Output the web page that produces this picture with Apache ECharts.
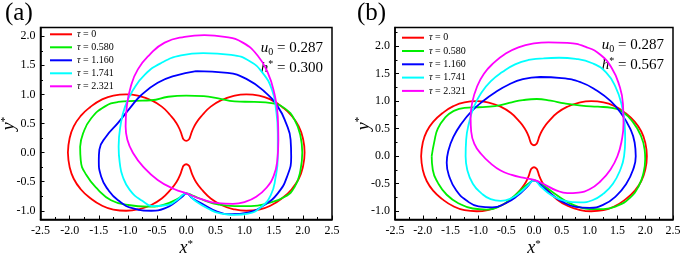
<!DOCTYPE html>
<html>
<head>
<meta charset="utf-8">
<script src="https://cdn.jsdelivr.net/npm/echarts@6/dist/echarts.min.js"></script>
<style>
html, body { margin: 0; padding: 0; background: #fff; }
#chart { width: 682px; height: 257px; }
</style>
</head>
<body>
<div id="chart"></div>
<script>
var TAU_NAMES = ['τ = 0', 'τ = 0.580', 'τ = 1.160', 'τ = 1.741', 'τ = 2.321']
var COLORS = ['#ff0000', '#00ee00', '#0000ff', '#00ffff', '#ff00ff']
var Y_TICKS = [-1.0, -0.5, 0, 0.5, 1.0, 1.5, 2.0]
var Y_MINOR_A = [-0.75, -0.25, 0.25, 0.75, 1.25, 1.75]
var Y_MINOR_B = [-0.75, -0.25, 0.25, 0.75, 1.25, 1.75, 2.25]
var PARAMS_A = ['0.287', '0.300']
var PARAMS_B = ['0.287', '0.567']

// tau = 0, same in both panels
var tau0Curve = [
  [-2.03, 0], [-2.0, 0.25], [-1.93, 0.45], [-1.81, 0.63], [-1.65, 0.78], [-1.45, 0.91], [-1.25, 0.98], [-1.03, 1.0],
  [-0.8, 0.97], [-0.6, 0.9], [-0.42, 0.79], [-0.28, 0.65], [-0.17, 0.51], [-0.1, 0.37], [-0.07, 0.28], [-0.045, 0.225],
  [0, 0.2], [0.045, 0.225], [0.07, 0.28], [0.1, 0.37], [0.17, 0.51], [0.28, 0.65], [0.42, 0.79], [0.6, 0.9], [0.8, 0.97],
  [1.03, 1.0], [1.25, 0.98], [1.45, 0.91], [1.65, 0.78], [1.81, 0.63], [1.93, 0.45], [2.0, 0.25], [2.03, 0],
  [2.0, -0.25], [1.93, -0.45], [1.81, -0.63], [1.65, -0.78], [1.45, -0.91], [1.25, -0.98], [1.03, -1.0], [0.8, -0.97],
  [0.6, -0.9], [0.42, -0.79], [0.28, -0.65], [0.17, -0.51], [0.1, -0.37], [0.07, -0.28], [0.045, -0.225], [0, -0.2],
  [-0.045, -0.225], [-0.07, -0.28], [-0.1, -0.37], [-0.17, -0.51], [-0.28, -0.65], [-0.42, -0.79], [-0.6, -0.9],
  [-0.8, -0.97], [-1.03, -1.0], [-1.25, -0.98], [-1.45, -0.91], [-1.65, -0.78], [-1.81, -0.63], [-1.93, -0.45],
  [-2.0, -0.25], [-2.03, 0]
]

// panel (a), h* = 0.300
var aTau0580 = [
  [-1.82, 0.1], [-1.77, 0.33], [-1.63, 0.59], [-1.4, 0.79], [-1.17, 0.87], [-0.89, 0.89], [-0.6, 0.9], [-0.31, 0.96],
  [0, 0.98], [0.3, 0.97], [0.55, 0.93], [0.83, 0.88], [1.17, 0.87], [1.46, 0.85], [1.69, 0.76], [1.86, 0.56],
  [1.96, 0.28], [1.99, 0], [1.96, -0.3], [1.86, -0.59], [1.69, -0.76], [1.4, -0.87], [1.11, -0.92], [0.83, -0.92],
  [0.54, -0.89], [0.31, -0.82], [0.11, -0.74], [0, -0.7], [-0.14, -0.79], [-0.37, -0.89], [-0.66, -0.93], [-1.0, -0.9],
  [-1.29, -0.82], [-1.51, -0.64], [-1.71, -0.39], [-1.81, -0.13], [-1.82, 0.1]
]
var aTau1160 = [
  [0.17, 1.4], [-0.2, 1.32], [-0.49, 1.2], [-0.77, 0.99], [-0.97, 0.76], [-1.17, 0.51], [-1.37, 0.28], [-1.49, 0.05],
  [-1.5, -0.13], [-1.46, -0.41], [-1.34, -0.64], [-1.17, -0.82], [-0.91, -0.96], [-0.6, -1.0], [-0.37, -0.96],
  [-0.17, -0.84], [-0.06, -0.75], [0, -0.7], [0.11, -0.79], [0.31, -0.9], [0.54, -1.02], [0.77, -1.06], [1.06, -1.03],
  [1.34, -0.9], [1.57, -0.7], [1.73, -0.41], [1.8, -0.07], [1.79, 0.22], [1.71, 0.51], [1.57, 0.79], [1.34, 1.05],
  [1.06, 1.25], [0.71, 1.37], [0.17, 1.4]
]
var aTau1741 = [
  [0.29, 1.71], [-0.09, 1.67], [-0.43, 1.54], [-0.71, 1.34], [-0.91, 1.08], [-1.05, 0.79], [-1.13, 0.45], [-1.16, 0.1],
  [-1.14, -0.18], [-1.09, -0.41], [-0.97, -0.64], [-0.77, -0.82], [-0.54, -0.92], [-0.31, -0.9], [-0.14, -0.8],
  [0, -0.7], [0.14, -0.82], [0.37, -0.96], [0.6, -1.05], [0.83, -1.07], [1.06, -1.05], [1.29, -0.93], [1.45, -0.73],
  [1.53, -0.44], [1.57, -0.07], [1.57, 0.33], [1.54, 0.74], [1.47, 1.08], [1.31, 1.37], [1.09, 1.57], [0.77, 1.68],
  [0.29, 1.71]
]
var aTau2321 = [
  [0.31, 2.02], [-0.03, 1.99], [-0.37, 1.89], [-0.63, 1.68], [-0.83, 1.43], [-0.95, 1.14], [-1.02, 0.79], [-1.04, 0.45],
  [-1.01, 0.22], [-0.91, -0.01], [-0.74, -0.24], [-0.49, -0.47], [-0.2, -0.63], [0, -0.7], [0.26, -0.8], [0.54, -0.87],
  [0.8, -0.88], [1.0, -0.85], [1.2, -0.76], [1.38, -0.6], [1.5, -0.4], [1.56, -0.15], [1.58, 0.22], [1.57, 0.62],
  [1.51, 1.02], [1.4, 1.37], [1.23, 1.66], [0.97, 1.89], [0.66, 1.99], [0.31, 2.02]
]

// panel (b), h* = 0.567
var bTau0580 = [
  [-1.84, 0.0], [-1.79, 0.28], [-1.73, 0.5], [-1.6, 0.7], [-1.45, 0.82], [-1.25, 0.88], [-1.0, 0.89], [-0.8, 0.9],
  [-0.6, 0.93], [-0.4, 0.98], [-0.2, 1.02], [0.05, 1.04], [0.3, 1.01], [0.55, 0.96], [0.85, 0.92], [1.15, 0.9],
  [1.4, 0.88], [1.6, 0.8], [1.78, 0.62], [1.92, 0.38], [1.99, 0.12], [2.0, -0.05], [1.97, -0.3], [1.88, -0.55],
  [1.72, -0.76], [1.5, -0.9], [1.25, -0.96], [1.0, -0.96], [0.8, -0.92], [0.6, -0.83], [0.4, -0.7], [0.2, -0.55],
  [0.08, -0.47], [0, -0.44], [-0.08, -0.48], [-0.2, -0.58], [-0.4, -0.76], [-0.6, -0.9], [-0.85, -0.97], [-1.1, -0.95],
  [-1.35, -0.86], [-1.57, -0.7], [-1.73, -0.48], [-1.82, -0.25], [-1.84, 0.0]
]
var bTau1160 = [
  [0.11, 1.44], [-0.2, 1.4], [-0.46, 1.3], [-0.7, 1.16], [-0.92, 1.0], [-1.12, 0.82], [-1.3, 0.6], [-1.45, 0.35],
  [-1.54, 0.1], [-1.57, -0.12], [-1.52, -0.38], [-1.4, -0.62], [-1.22, -0.8], [-1.0, -0.91], [-0.75, -0.93],
  [-0.5, -0.85], [-0.3, -0.72], [-0.12, -0.55], [0, -0.44], [0.12, -0.52], [0.3, -0.68], [0.5, -0.82], [0.75, -0.92],
  [1.0, -0.94], [1.25, -0.88], [1.48, -0.72], [1.66, -0.5], [1.78, -0.25], [1.83, 0.0], [1.81, 0.25], [1.73, 0.5],
  [1.58, 0.76], [1.38, 1.0], [1.12, 1.2], [0.85, 1.34], [0.5, 1.42], [0.11, 1.44]
]
var bTau1741 = [
  [0.17, 1.78], [-0.1, 1.75], [-0.34, 1.67], [-0.57, 1.53], [-0.77, 1.37], [-0.95, 1.15], [-1.08, 0.9], [-1.17, 0.6],
  [-1.22, 0.3], [-1.23, 0.0], [-1.2, -0.25], [-1.1, -0.5], [-0.95, -0.67], [-0.78, -0.78], [-0.6, -0.81],
  [-0.42, -0.77], [-0.25, -0.66], [-0.1, -0.52], [0, -0.44], [0.12, -0.55], [0.3, -0.7], [0.55, -0.81], [0.83, -0.84],
  [1.05, -0.8], [1.25, -0.68], [1.42, -0.5], [1.55, -0.25], [1.62, 0.0], [1.64, 0.3], [1.63, 0.6], [1.58, 0.92],
  [1.47, 1.25], [1.3, 1.52], [1.05, 1.69], [0.75, 1.77], [0.45, 1.79], [0.17, 1.78]
]
var bTau2321 = [
  [0.26, 2.07], [0.0, 2.05], [-0.28, 1.98], [-0.52, 1.86], [-0.72, 1.7], [-0.9, 1.5], [-1.03, 1.25], [-1.11, 0.98],
  [-1.14, 0.7], [-1.13, 0.45], [-1.07, 0.22], [-0.95, 0.04], [-0.78, -0.13], [-0.6, -0.26], [-0.4, -0.34],
  [-0.2, -0.39], [0, -0.43], [0.2, -0.52], [0.4, -0.62], [0.6, -0.67], [0.8, -0.66], [1.0, -0.6], [1.2, -0.45],
  [1.37, -0.25], [1.5, 0.0], [1.58, 0.3], [1.61, 0.6], [1.6, 0.95], [1.53, 1.3], [1.4, 1.6], [1.2, 1.84], [0.95, 1.98],
  [0.6, 2.06], [0.26, 2.07]
]

var PANEL_A = [tau0Curve, aTau0580, aTau1160, aTau1741, aTau2321]
var PANEL_B = [tau0Curve, bTau0580, bTau1160, bTau1741, bTau2321]

var FONT = 'Liberation Serif'
var BLACK = '#000'

function fmt1(v) { return Number(v).toFixed(1) }

function nameRich() {
  return {
    i: { fontFamily: FONT, fontStyle: 'italic', fontSize: 18, color: BLACK, lineHeight: 20 },
    s: { fontFamily: FONT, fontSize: 11, color: BLACK, verticalAlign: 'top', lineHeight: 20 }
  }
}

function makeXAxis(gridIndex) {
  return {
    type: 'value',
    gridIndex: gridIndex,
    position: 'bottom',
    min: -2.5,
    max: 2.5,
    interval: 0.5,
    name: '{i|x}{s|*}',
    nameLocation: 'middle',
    nameGap: 19,
    nameMoveOverlap: false,
    nameTextStyle: { rich: nameRich() },
    axisLine: { show: true, onZero: false, lineStyle: { color: BLACK, width: 1.5 } },
    axisTick: { show: true, inside: true, length: 4, lineStyle: { color: BLACK, width: 1 } },
    minorTick: { show: true, splitNumber: 2, length: 2.5, lineStyle: { color: BLACK, width: 1 } },
    axisLabel: { color: BLACK, fontFamily: FONT, fontSize: 12, margin: 5, formatter: fmt1 },
    splitLine: { show: false }
  }
}

function makeYAxis(gridIndex, max, nameGap) {
  return {
    type: 'value',
    gridIndex: gridIndex,
    position: 'left',
    min: -1.15,
    max: max,
    name: '{i|y}{s|*}',
    nameLocation: 'middle',
    nameGap: nameGap,
    nameMoveOverlap: false,
    nameTextStyle: { rich: nameRich() },
    axisLine: { show: true, onZero: false, lineStyle: { color: BLACK, width: 1.5 } },
    axisTick: { show: true, inside: true, length: 4, customValues: Y_TICKS, lineStyle: { color: BLACK, width: 1 } },
    axisLabel: { color: BLACK, fontFamily: FONT, fontSize: 12, margin: 5, customValues: Y_TICKS, formatter: fmt1 },
    splitLine: { show: false }
  }
}

// second y axis on the same edge, only for the short minor ticks
function makeMinorYAxis(gridIndex, max, minorValues) {
  return {
    type: 'value',
    gridIndex: gridIndex,
    position: 'left',
    offset: 0,
    min: -1.15,
    max: max,
    axisLine: { show: false, onZero: false },
    axisTick: { show: true, inside: true, length: 2.5, customValues: minorValues, lineStyle: { color: BLACK, width: 1 } },
    axisLabel: { show: false },
    splitLine: { show: false }
  }
}

function makeSeries(curves, gridIndex) {
  return curves.map(function (data, i) {
    return {
      type: 'line',
      name: TAU_NAMES[i],
      xAxisIndex: gridIndex,
      yAxisIndex: gridIndex * 2,
      data: data,
      symbol: 'none',
      showSymbol: false,
      smooth: 0.5,
      lineStyle: { color: COLORS[i], width: 1.8 },
      itemStyle: { color: COLORS[i] },
      silent: true
    }
  })
}

function makeLegend(left, top, gap) {
  return {
    left: left,
    top: top,
    padding: 0,
    orient: 'vertical',
    icon: 'rect',
    itemWidth: 22,
    itemHeight: 2,
    itemGap: gap,
    selectedMode: false,
    data: TAU_NAMES,
    formatter: function (name) { return '{i|τ}' + name.slice(1) },
    textStyle: {
      fontFamily: FONT,
      fontSize: 10,
      color: BLACK,
      lineHeight: 10,
      rich: { i: { fontFamily: FONT, fontStyle: 'italic', fontSize: 10, color: BLACK, lineHeight: 10 } }
    }
  }
}

function paramText(x, y, sym, kind, value) {
  var mark = kind === 'sub' ? '{sub|0}' : '{sup|*}'
  return {
    type: 'text',
    x: x,
    y: y,
    style: {
      text: '{i|' + sym + '}' + mark + '{n| = ' + value + '}',
      align: 'right',
      verticalAlign: 'middle',
      fontFamily: FONT,
      fontSize: 15,
      fill: BLACK,
      rich: {
        i: { fontFamily: FONT, fontStyle: 'italic', fontSize: 15, fill: BLACK, lineHeight: 18 },
        n: { fontFamily: FONT, fontSize: 15, fill: BLACK, lineHeight: 18 },
        sub: { fontFamily: FONT, fontSize: 10, fill: BLACK, verticalAlign: 'bottom', lineHeight: 18 },
        sup: { fontFamily: FONT, fontSize: 10, fill: BLACK, verticalAlign: 'top', lineHeight: 18 }
      }
    }
  }
}

var chart = echarts.init(document.getElementById('chart'), null, { renderer: 'canvas' })
chart.setOption({
  animation: false,
  backgroundColor: '#fff',
  grid: [
    { left: 40.5, top: 27.5, width: 291.5, height: 192, containLabel: false, outerBoundsMode: 'none', show: true, borderColor: BLACK, borderWidth: 1.5 },
    { left: 395, top: 27.5, width: 278, height: 192, containLabel: false, outerBoundsMode: 'none', show: true, borderColor: BLACK, borderWidth: 1.5 }
  ],
  xAxis: [makeXAxis(0), makeXAxis(1)],
  yAxis: [
    makeYAxis(0, 2.15, 21),
    makeMinorYAxis(0, 2.15, Y_MINOR_A),
    makeYAxis(1, 2.34, 21),
    makeMinorYAxis(1, 2.34, Y_MINOR_B)
  ],
  legend: [makeLegend(50, 29.3, 3), makeLegend(402, 32.7, 3.3)],
  graphic: [
    { type: 'text', x: 5, y: 1, style: { text: '(a)', fontFamily: FONT, fontSize: 25, fill: BLACK } },
    { type: 'text', x: 357, y: 1, style: { text: '(b)', fontFamily: FONT, fontSize: 25, fill: BLACK } },
    paramText(323, 48, 'u', 'sub', PARAMS_A[0]),
    paramText(323, 68, 'h', 'sup', PARAMS_A[1]),
    paramText(664, 45, 'u', 'sub', PARAMS_B[0]),
    paramText(664, 65, 'h', 'sup', PARAMS_B[1])
  ],
  series: makeSeries(PANEL_A, 0).concat(makeSeries(PANEL_B, 1))
})
</script>
</body>
</html>
